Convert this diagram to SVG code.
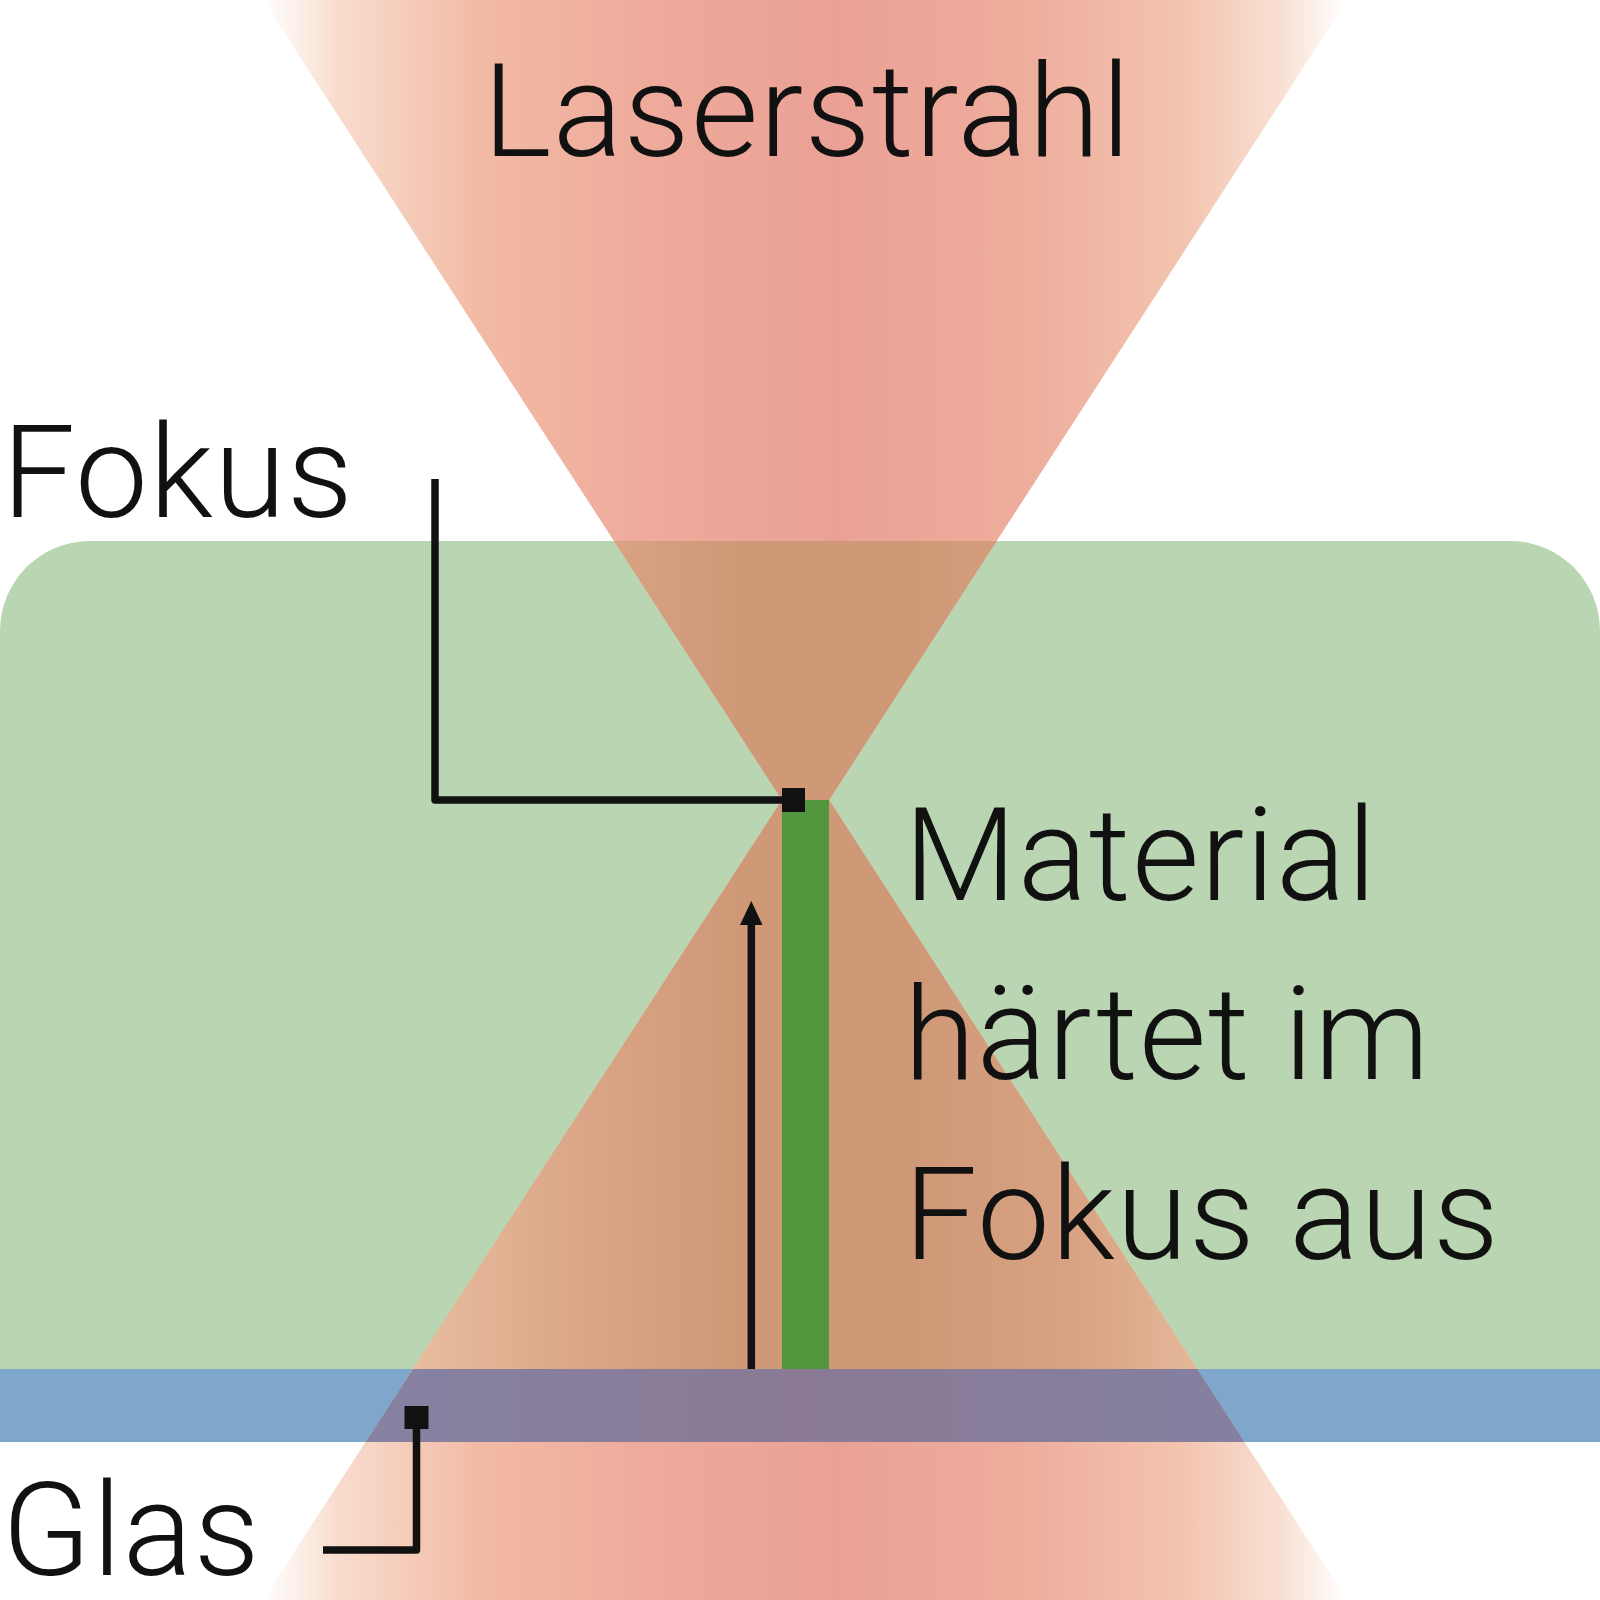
<svg xmlns="http://www.w3.org/2000/svg" width="1600" height="1600" viewBox="0 0 1600 1600">
  <style>
    .lbl { font-family: Roboto, "Liberation Sans", sans-serif; font-weight: 300; font-size: 130px; letter-spacing: 1.3px; fill: #111111; }
    .ln { fill: none; stroke: #111111; stroke-width: 7.5; stroke-linejoin: round; }
    .sq { fill: #111111; }
  </style>
  <defs>
    <linearGradient id="beamOut" gradientUnits="userSpaceOnUse" x1="263" y1="0" x2="1347" y2="0">
      <stop offset="0" stop-color="#FFFFFF"/>
      <stop offset="0.07" stop-color="#F8DCCD"/>
      <stop offset="0.2" stop-color="#F2BAA5"/>
      <stop offset="0.36" stop-color="#EEAA9B"/>
      <stop offset="0.53" stop-color="#EBA196"/>
      <stop offset="0.7" stop-color="#EEAD9C"/>
      <stop offset="0.85" stop-color="#F3C4AF"/>
      <stop offset="0.94" stop-color="#F9E0D3"/>
      <stop offset="1" stop-color="#FFFFFF"/>
    </linearGradient>
    <linearGradient id="beamGreen" gradientUnits="userSpaceOnUse" x1="263" y1="0" x2="1347" y2="0">
      <stop offset="0" stop-color="#F0D8C5"/>
      <stop offset="0.14" stop-color="#E7BD9E"/>
      <stop offset="0.3" stop-color="#DAA586"/>
      <stop offset="0.44" stop-color="#CF9877"/>
      <stop offset="0.6" stop-color="#CF9877"/>
      <stop offset="0.76" stop-color="#D9A484"/>
      <stop offset="0.88" stop-color="#E6BB9D"/>
      <stop offset="1" stop-color="#F0D6C2"/>
    </linearGradient>
    <linearGradient id="beamBlue" gradientUnits="userSpaceOnUse" x1="263" y1="0" x2="1347" y2="0">
      <stop offset="0" stop-color="#8584A6"/>
      <stop offset="0.5" stop-color="#8A7A95"/>
      <stop offset="1" stop-color="#8382A4"/>
    </linearGradient>
    <clipPath id="clipGreen">
      <path d="M0,1369 V631 A90,90 0 0 1 90,541 H1510 A90,90 0 0 1 1600,631 V1369 Z"/>
    </clipPath>
    <clipPath id="clipBlue">
      <rect x="0" y="1369" width="1600" height="73"/>
    </clipPath>
    <path id="beamShape" d="M263,0 H1347 L829,800 L1347,1600 H263 L782,800 Z"/>
  </defs>

  <rect width="1600" height="1600" fill="#FFFFFF"/>

  <g id="material-block">
    <path d="M0,1369 V631 A90,90 0 0 1 90,541 H1510 A90,90 0 0 1 1600,631 V1369 Z" fill="#BAD5B2"/>
  </g>
  <g id="glass">
    <rect x="0" y="1369" width="1600" height="73" fill="#7FA6CB"/>
  </g>

  <g id="laser-beam">
    <use href="#beamShape" fill="url(#beamOut)"/>
    <use href="#beamShape" fill="url(#beamGreen)" clip-path="url(#clipGreen)"/>
    <use href="#beamShape" fill="url(#beamBlue)" clip-path="url(#clipBlue)"/>
  </g>

  <g id="hardened-material">
    <rect x="782" y="800" width="47" height="569" fill="#52963E"/>
  </g>

  <g id="connectors">
    <path class="ln" d="M435,479 V800 H790"/>
    <rect class="sq" x="782" y="788" width="23" height="24"/>
    <path class="ln" d="M323,1550 H416.5 V1420"/>
    <rect class="sq" x="404.5" y="1406" width="24" height="23"/>
    <line x1="751.3" y1="1369" x2="751.3" y2="920" stroke="#111111" stroke-width="7.5"/>
    <polygon points="751.3,901 762.5,925 740,925" fill="#111111"/>
  </g>

  <g id="label-laserstrahl">
    <text class="lbl" x="483" y="156">Laserstrahl</text>
  </g>
  <g id="label-fokus">
    <text class="lbl" x="2" y="517">Fokus</text>
  </g>
  <g id="label-material">
    <text class="lbl" x="904" y="900">Material</text>
    <text class="lbl" x="904" y="1079">härtet im</text>
    <text class="lbl" x="904" y="1259">Fokus aus</text>
  </g>
  <g id="label-glas">
    <text class="lbl" x="2" y="1575">Glas</text>
  </g>
</svg>
